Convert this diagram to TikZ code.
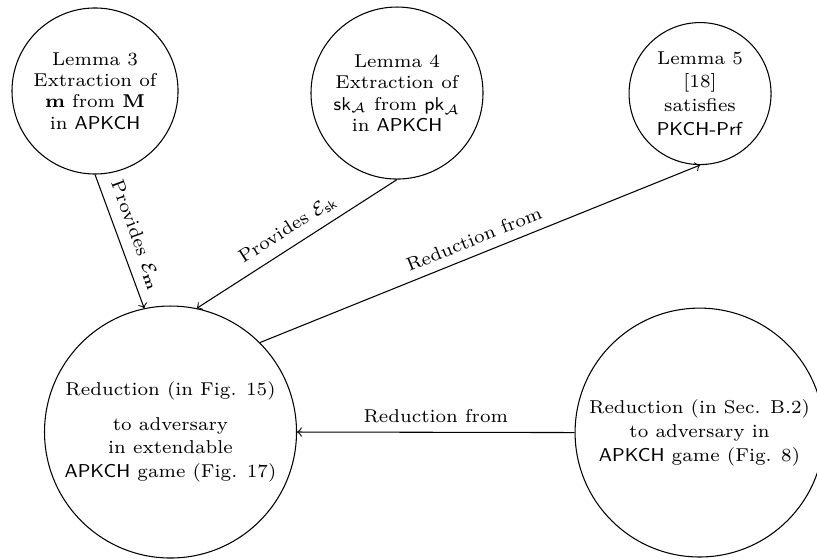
\documentclass[tikz,border=0pt]{standalone}
\usepackage{amssymb}
\usepackage{amsmath}
\usepackage{color}
\usepackage{tikz}

\begin{document}
\begin{tikzpicture}[shorten >=0pt,->,font=\scriptsize]
            \tikzstyle{lemma}=[circle,draw=black,fill=white,align=center,inner sep=0pt]
            \tikzstyle{wide}=[lemma,font=\fontsize{7}{9}\selectfont]
            \useasboundingbox (0,0) rectangle (10.80,7.377);

            \node[lemma,minimum size=2.195cm] (L-3) at (1.256,6.174) {Lemma 3\\Extraction of\\$\mathbf{m}$ from $\mathbf{M}$\\in $\mathsf{APKCH}$};
            \node[lemma,minimum size=2.274cm] (L-4) at (5.248,6.147) {Lemma 4\\Extraction of\\$\mathsf{sk}_{\mathcal{A}}$ from $\mathsf{pk}_{\mathcal{A}}$\\in $\mathsf{APKCH}$};
            \node[wide,minimum size=1.877cm] (L-5) at (9.254,6.140) {Lemma 5\\{[18]}\\satisfies\\$\mathsf{PKCH\text{-}Prf}$};

            \node[wide,minimum size=3.331cm] (R-ext) at (2.254,1.666) {Reduction (in Fig. 15)\\[4pt]to adversary\\in extendable\\$\mathsf{APKCH}$ game (Fig. 17)};
            \node[wide,minimum size=3.29cm] (R-sec) at (9.247,1.659) {Reduction (in Sec. B.2)\\to adversary in\\$\mathsf{APKCH}$ game (Fig. 8)};

                \draw (L-3.south) -- node[sloped,above] {Provides $\mathcal{E}_{\mathbf{m}}$} (R-ext.102);
                \draw (L-4.south) -- node[sloped,above] {Provides $\mathcal{E}_{\mathsf{sk}}$} (R-ext.78);
                \draw (R-ext.north east) -- node[sloped,above] {Reduction from} (L-5.south);
                \draw (R-sec.west) -- node[above] {Reduction from} (R-ext.east);
        \end{tikzpicture}
\end{document}
